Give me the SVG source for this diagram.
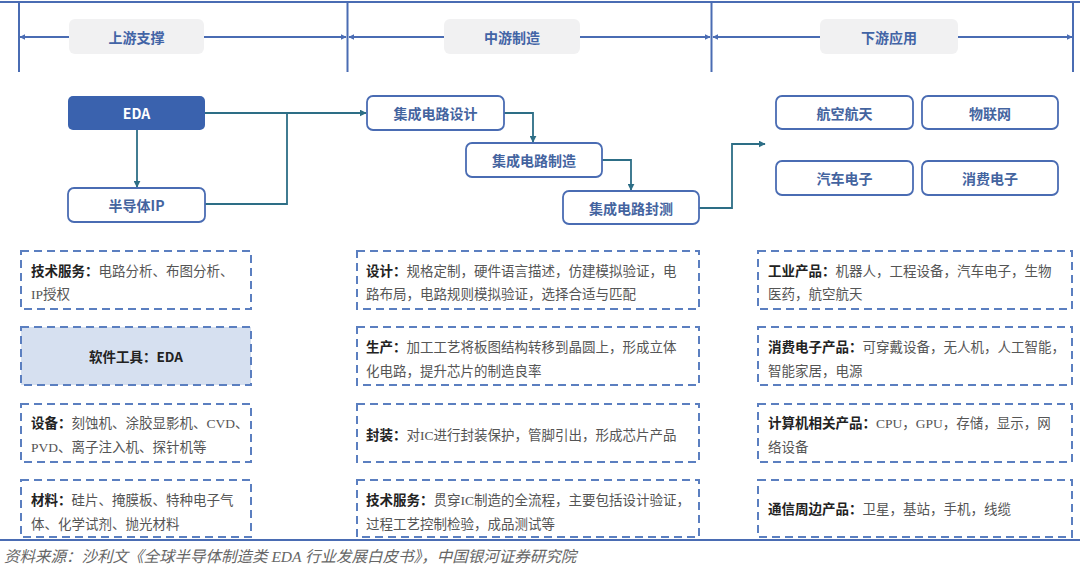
<svg xmlns="http://www.w3.org/2000/svg" width="1080" height="573" viewBox="0 0 1080 573">
<defs>
<marker id="ah" viewBox="0 0 10 10" refX="9" refY="5" markerWidth="6" markerHeight="6" orient="auto-start-reverse" markerUnits="userSpaceOnUse"><path d="M0,0 L10,5 L0,10 z" fill="#4a6cb3"/></marker>
<marker id="ft" viewBox="0 0 10 10" refX="9" refY="5" markerWidth="7" markerHeight="7" orient="auto" markerUnits="userSpaceOnUse"><path d="M0,0 L10,5 L0,10 z" fill="#2d6e86"/></marker>
</defs>
<style>
.frame{stroke:#4a6cb3;stroke-width:2;fill:none}
.hl{stroke:#4a6cb3;stroke-width:2;fill:none}
.hbox{fill:#f1f1f2;stroke:none}
.htxt{font-family:"Noto Sans CJK SC",sans-serif;font-size:14px;font-weight:bold;fill:#4264a6;text-anchor:middle;dominant-baseline:central}
.node{fill:#fff;stroke:#4a6cb3;stroke-width:1.8}
.ntxt{font-family:"Noto Sans CJK SC",sans-serif;font-size:14px;font-weight:bold;fill:#44649f;text-anchor:middle;dominant-baseline:central}
.flow{stroke:#2d6e86;stroke-width:1.8;fill:none}
.dbox{fill:#fff;stroke:#5b7fc0;stroke-width:2;stroke-dasharray:8 5}
.t{font-family:"Liberation Serif","Noto Sans CJK SC",serif;font-size:13.5px;fill:#555}
.b{font-family:"Noto Sans CJK SC",sans-serif;font-weight:bold;fill:#222}
.foot{font-family:"Liberation Serif","Noto Sans CJK SC",serif;font-size:15.5px;font-style:italic;fill:#666}
</style>
<rect width="1080" height="573" fill="#fff"/>

<g id="frame">
<line class="frame" x1="0" y1="2" x2="1080" y2="2"/>
<line class="frame" x1="19" y1="2" x2="19" y2="72"/>
<line class="frame" x1="347.5" y1="2" x2="347.5" y2="72"/>
<line class="frame" x1="711.5" y1="2" x2="711.5" y2="72"/>
<line class="frame" x1="1073" y1="2" x2="1073" y2="72"/>
<line class="frame" x1="0" y1="540" x2="1080" y2="540"/>
</g>

<g id="header-upstream">
<line class="hl" x1="69" y1="37" x2="20" y2="37" marker-end="url(#ah)"/>
<line class="hl" x1="204" y1="37" x2="346" y2="37" marker-end="url(#ah)"/>
<rect class="hbox" x="69" y="19" width="135" height="35" rx="6"/>
<text class="htxt" x="136.5" y="36.5">上游支撑</text>
</g>
<g id="header-midstream">
<line class="hl" x1="444" y1="37" x2="349" y2="37" marker-end="url(#ah)"/>
<line class="hl" x1="580" y1="37" x2="710" y2="37" marker-end="url(#ah)"/>
<rect class="hbox" x="444" y="19" width="136" height="35" rx="6"/>
<text class="htxt" x="512" y="36.5">中游制造</text>
</g>
<g id="header-downstream">
<line class="hl" x1="820" y1="37" x2="713" y2="37" marker-end="url(#ah)"/>
<line class="hl" x1="958" y1="37" x2="1072" y2="37" marker-end="url(#ah)"/>
<rect class="hbox" x="820" y="19" width="138" height="35" rx="6"/>
<text class="htxt" x="889" y="36.5">下游应用</text>
</g>

<g id="connectors">
<line class="flow" x1="137" y1="130" x2="137" y2="187" marker-end="url(#ft)"/>
<polyline class="flow" points="205,113 366,113" marker-end="url(#ft)"/>
<polyline class="flow" points="205,204 287,204 287,113"/>
<polyline class="flow" points="504,113 533,113 533,142" marker-end="url(#ft)"/>
<polyline class="flow" points="602,160 631,160 631,190" marker-end="url(#ft)"/>
<polyline class="flow" points="699,208 732,208 732,144 765,144" marker-end="url(#ft)"/>
</g>

<g id="node-eda">
<rect x="68" y="96" width="137" height="34" rx="5" fill="#3a62ae"/>
<text class="ntxt" x="136.5" y="113" style="fill:#fff">EDA</text>
</g>
<g id="node-ip">
<rect class="node" x="68" y="188" width="137" height="34" rx="6"/>
<text class="ntxt" x="136.5" y="205">半导体IP</text>
</g>
<g id="node-design">
<rect class="node" x="367" y="96" width="137" height="34" rx="6"/>
<text class="ntxt" x="435.5" y="113">集成电路设计</text>
</g>
<g id="node-manufacture">
<rect class="node" x="466" y="143" width="136" height="34" rx="6"/>
<text class="ntxt" x="534" y="160">集成电路制造</text>
</g>
<g id="node-package">
<rect class="node" x="563" y="191" width="136" height="33" rx="6"/>
<text class="ntxt" x="631" y="207.5">集成电路封测</text>
</g>
<g id="node-aero">
<rect class="node" x="776" y="96" width="137" height="33" rx="6"/>
<text class="ntxt" x="844.5" y="112.5">航空航天</text>
</g>
<g id="node-iot">
<rect class="node" x="922" y="96" width="136" height="33" rx="6"/>
<text class="ntxt" x="990" y="112.5">物联网</text>
</g>
<g id="node-auto">
<rect class="node" x="776" y="161" width="137" height="34" rx="6"/>
<text class="ntxt" x="844.5" y="178">汽车电子</text>
</g>
<g id="node-consumer">
<rect class="node" x="922" y="161" width="136" height="34" rx="6"/>
<text class="ntxt" x="990" y="178">消费电子</text>
</g>

<g id="box-up-1">
<rect class="dbox" x="21" y="251" width="230" height="58"/>
<text class="t" x="31" y="276"><tspan class="b">技术服务：</tspan>电路分析、布图分析、</text>
<text class="t" x="31" y="299">IP授权</text>
</g>
<g id="box-up-2">
<rect class="dbox" x="21" y="327" width="230" height="58" style="fill:#d6e0f0"/>
<text class="t b" x="136" y="362" text-anchor="middle">软件工具：EDA</text>
</g>
<g id="box-up-3">
<rect class="dbox" x="21" y="404" width="230" height="58"/>
<text class="t" x="31" y="428"><tspan class="b">设备：</tspan>刻蚀机、涂胶显影机、CVD、</text>
<text class="t" x="31" y="452">PVD、离子注入机、探针机等</text>
</g>
<g id="box-up-4">
<rect class="dbox" x="21" y="480" width="230" height="57"/>
<text class="t" x="31" y="505"><tspan class="b">材料：</tspan>硅片、掩膜板、特种电子气</text>
<text class="t" x="31" y="529">体、化学试剂、抛光材料</text>
</g>

<g id="box-mid-1">
<rect class="dbox" x="357" y="251" width="342" height="58"/>
<text class="t" x="366" y="276"><tspan class="b">设计：</tspan>规格定制，硬件语言描述，仿建模拟验证，电</text>
<text class="t" x="366" y="299">路布局，电路规则模拟验证，选择合适与匹配</text>
</g>
<g id="box-mid-2">
<rect class="dbox" x="357" y="327" width="342" height="58"/>
<text class="t" x="366" y="352"><tspan class="b">生产：</tspan>加工工艺将板图结构转移到晶圆上，形成立体</text>
<text class="t" x="366" y="376">化电路，提升芯片的制造良率</text>
</g>
<g id="box-mid-3">
<rect class="dbox" x="357" y="404" width="342" height="58"/>
<text class="t" x="366" y="440"><tspan class="b">封装：</tspan>对IC进行封装保护，管脚引出，形成芯片产品</text>
</g>
<g id="box-mid-4">
<rect class="dbox" x="357" y="480" width="342" height="57"/>
<text class="t" x="366" y="505"><tspan class="b">技术服务：</tspan>贯穿IC制造的全流程，主要包括设计验证，</text>
<text class="t" x="366" y="529">过程工艺控制检验，成品测试等</text>
</g>

<g id="box-down-1">
<rect class="dbox" x="758" y="251" width="314" height="58"/>
<text class="t" x="768" y="276"><tspan class="b">工业产品：</tspan>机器人，工程设备，汽车电子，生物</text>
<text class="t" x="768" y="299">医药，航空航天</text>
</g>
<g id="box-down-2">
<rect class="dbox" x="758" y="327" width="314" height="58"/>
<text class="t" x="768" y="352"><tspan class="b">消费电子产品：</tspan>可穿戴设备，无人机，人工智能，</text>
<text class="t" x="768" y="376">智能家居，电源</text>
</g>
<g id="box-down-3">
<rect class="dbox" x="758" y="404" width="314" height="58"/>
<text class="t" x="768" y="428"><tspan class="b">计算机相关产品：</tspan>CPU，GPU，存储，显示，网</text>
<text class="t" x="768" y="452">络设备</text>
</g>
<g id="box-down-4">
<rect class="dbox" x="758" y="480" width="314" height="57"/>
<text class="t" x="768" y="514"><tspan class="b">通信周边产品：</tspan>卫星，基站，手机，线缆</text>
</g>

<text class="foot" x="4" y="562">资料来源：沙利文《全球半导体制造类 EDA 行业发展白皮书》，中国银河证券研究院</text>
</svg>
